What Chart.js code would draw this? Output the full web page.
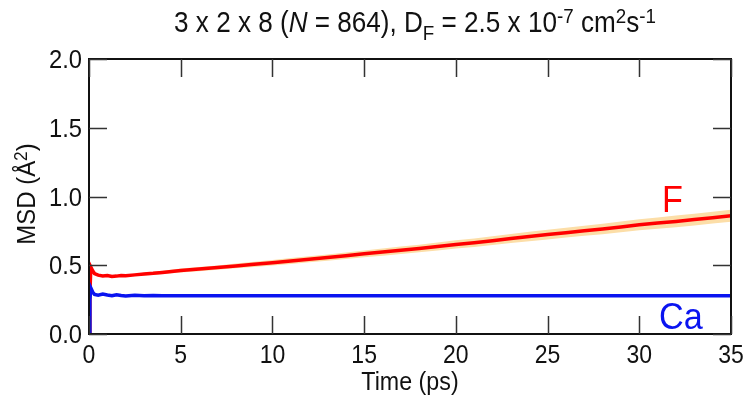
<!DOCTYPE html>
<html>
<head>
<meta charset="utf-8">
<script src="https://cdn.jsdelivr.net/npm/chart.js@4.4.1/dist/chart.umd.min.js"></script>
<style>
  html, body { margin: 0; padding: 0; background: #fff; }
  #wrap { width: 747px; height: 399px; }
</style>
</head>
<body>
<div id="wrap"><canvas id="chartCanvas" width="747" height="399"></canvas></div>
<script>
// time axis (ps)
const timePs = [0, 0.05, 0.1, 0.2, 0.3, 0.5, 0.75, 1, 1.25, 1.5, 1.75, 2, 2.5, 3, 3.5, 4,
  5, 6, 7, 8, 9, 10, 11, 12, 13, 14, 15, 16, 17, 18, 19, 20,
  21, 22, 23, 24, 25, 26, 27, 28, 29, 30, 31, 32, 33, 34, 35];

// MSD of F (A^2)
const msdF = [0, 0.30, 0.487, 0.46, 0.44, 0.428, 0.422, 0.426, 0.418, 0.421, 0.426, 0.423, 0.43, 0.436, 0.441, 0.448,
  0.462, 0.472, 0.483, 0.495, 0.507, 0.519, 0.531, 0.543, 0.556, 0.569, 0.583, 0.596, 0.609, 0.622, 0.637, 0.651,
  0.664, 0.679, 0.694, 0.709, 0.723, 0.737, 0.751, 0.764, 0.779, 0.794, 0.807, 0.819, 0.832, 0.846, 0.86];

// error band half-width for F
const errF = [0, 0.004, 0.006, 0.006, 0.006, 0.006, 0.007, 0.007, 0.007, 0.008, 0.008, 0.008, 0.009, 0.010, 0.011, 0.012,
  0.014, 0.015, 0.016, 0.017, 0.019, 0.020, 0.021, 0.022, 0.023, 0.024, 0.025, 0.026, 0.027, 0.028, 0.029, 0.030,
  0.031, 0.032, 0.033, 0.034, 0.035, 0.036, 0.037, 0.038, 0.039, 0.040, 0.041, 0.042, 0.042, 0.043, 0.044];

// MSD of Ca (A^2)
const msdCa = [0, 0.25, 0.335, 0.305, 0.288, 0.282, 0.29, 0.283, 0.278, 0.286, 0.28, 0.277, 0.281, 0.279, 0.28, 0.278,
  0.279, 0.278, 0.279, 0.278, 0.279, 0.278, 0.279, 0.278, 0.278, 0.279, 0.278, 0.278, 0.279, 0.278, 0.278, 0.279,
  0.278, 0.278, 0.279, 0.278, 0.278, 0.279, 0.278, 0.278, 0.279, 0.278, 0.278, 0.279, 0.278, 0.278, 0.279];

const xTicks = [0, 5, 10, 15, 20, 25, 30, 35];
const yTicks = [0, 0.5, 1.0, 1.5, 2.0];

const FONT = '"Liberation Sans", Arial, sans-serif';

function pts(ys) {
  return timePs.map((t, i) => ({ x: t, y: ys[i] }));
}

// text pieces with sub/superscripts, squeezed horizontally like the original
function partFont(p, size) {
  const s = (p.s === 'sub' || p.s === 'sup') ? size * 0.72 : size;
  return (p.s === 'it' ? 'italic ' : '') + s + 'px ' + FONT;
}
function richWidth(ctx, parts, size) {
  let w = 0;
  parts.forEach(p => { ctx.font = partFont(p, size); w += ctx.measureText(p.t).width; });
  return w;
}
function drawRich(ctx, parts, x, y, size, sx) {
  ctx.save();
  ctx.translate(x, y);
  ctx.scale(sx, 1);
  let cx = 0;
  parts.forEach(p => {
    let dy = 0;
    if (p.s === 'sub') dy = size * 0.28;
    if (p.s === 'sup') dy = -size * 0.32;
    ctx.font = partFont(p, size);
    ctx.fillText(p.t, cx, dy);
    cx += ctx.measureText(p.t).width;
  });
  ctx.restore();
}
function drawText(ctx, txt, x, y, size, sx, align) {
  ctx.save();
  ctx.font = size + 'px ' + FONT;
  const w = ctx.measureText(txt).width * sx;
  let x0 = x;
  if (align === 'center') x0 = x - w / 2;
  if (align === 'right') x0 = x - w;
  ctx.translate(x0, y);
  ctx.scale(sx, 1);
  ctx.textAlign = 'left';
  ctx.fillText(txt, 0, 0);
  ctx.restore();
}

const titleParts = [
  { t: '3 x 2 x 8 (' }, { t: 'N', s: 'it' }, { t: ' = 864), D' }, { t: 'F', s: 'sub' },
  { t: ' = 2.5 x 10' }, { t: '-7', s: 'sup' }, { t: ' cm' }, { t: '2', s: 'sup' },
  { t: 's' }, { t: '-1', s: 'sup' }
];
const yTitleParts = [{ t: 'MSD (Å' }, { t: '2', s: 'sup' }, { t: ')' }];

const decorPlugin = {
  id: 'decor',
  afterDatasetsDraw(chart) {
    const ctx = chart.ctx;
    const a = chart.chartArea;
    const xs = chart.scales.x, ys = chart.scales.y;
    ctx.save();
    // frame
    ctx.strokeStyle = '#111';
    ctx.lineWidth = 2;
    ctx.strokeRect(a.left, a.top, a.right - a.left, a.bottom - a.top);
    // inward ticks on all four sides
    ctx.lineWidth = 1.5;
    ctx.strokeStyle = '#333';
    ctx.beginPath();
    xTicks.forEach(v => {
      const px = Math.round(xs.getPixelForValue(v)) + 0.5;
      ctx.moveTo(px, a.bottom); ctx.lineTo(px, a.bottom - 18);
      ctx.moveTo(px, a.top); ctx.lineTo(px, a.top + 18);
    });
    yTicks.forEach(v => {
      const py = Math.round(ys.getPixelForValue(v)) + 0.5;
      ctx.moveTo(a.left, py); ctx.lineTo(a.left + 18, py);
      ctx.moveTo(a.right, py); ctx.lineTo(a.right - 18, py);
    });
    ctx.stroke();

    // tick labels
    ctx.fillStyle = '#111';
    ctx.textBaseline = 'alphabetic';
    xTicks.forEach(v => {
      drawText(ctx, String(v), xs.getPixelForValue(v), 363, 25, 0.92, 'center');
    });
    yTicks.forEach(v => {
      drawText(ctx, v.toFixed(1), 82, ys.getPixelForValue(v) + 9, 25, 0.95, 'right');
    });

    // series labels
    ctx.fillStyle = '#ff0000';
    drawText(ctx, 'F', 662, 212, 36, 0.95, 'left');
    ctx.fillStyle = '#0a14f0';
    drawText(ctx, 'Ca', 659, 329, 36, 0.95, 'left');

    // title
    ctx.fillStyle = '#111';
    const tsx = 0.9;
    const tw = richWidth(ctx, titleParts, 29) * tsx;
    drawRich(ctx, titleParts, 415 - tw / 2, 32, 29, tsx);

    // x title
    drawText(ctx, 'Time (ps)', 410, 390, 25, 0.93, 'center');

    // y title
    ctx.save();
    ctx.translate(35, 194);
    ctx.rotate(-Math.PI / 2);
    const ysx = 0.92;
    const yw = richWidth(ctx, yTitleParts, 26) * ysx;
    drawRich(ctx, yTitleParts, -yw / 2, 0, 26, ysx);
    ctx.restore();
    ctx.restore();
  }
};

const ctx = document.getElementById('chartCanvas').getContext('2d');
const chart = new Chart(ctx, {
  type: 'line',
  data: {
    datasets: [
      {
        label: 'F upper',
        data: pts(msdF.map((v, i) => v + errF[i])),
        borderWidth: 0, pointRadius: 0,
        backgroundColor: 'rgb(252,222,168)',
        fill: '+1', order: 5
      },
      {
        label: 'F lower',
        data: pts(msdF.map((v, i) => v - errF[i])),
        borderWidth: 0, pointRadius: 0, fill: false, order: 4
      },
      {
        label: 'F',
        data: pts(msdF),
        borderColor: '#ff0000', borderWidth: 3.5, pointRadius: 0, fill: false, order: 2
      },
      {
        label: 'Ca',
        data: pts(msdCa),
        borderColor: '#0a14f0', borderWidth: 3.5, pointRadius: 0, fill: false, order: 1
      }
    ]
  },
  options: {
    responsive: false,
    animation: false,
    layout: { padding: { top: 59, right: 16, left: 0, bottom: 0 } },
    plugins: { legend: { display: false }, tooltip: { enabled: false } },
    scales: {
      x: {
        type: 'linear', min: 0, max: 35,
        grid: { display: false, drawTicks: false },
        border: { display: false },
        ticks: { display: false, stepSize: 5 },
        afterFit(s) { s.height = 399 - 334; }
      },
      y: {
        min: 0, max: 2,
        grid: { display: false, drawTicks: false },
        border: { display: false },
        ticks: { display: false, stepSize: 0.5 },
        afterFit(s) { s.width = 89; }
      }
    }
  },
  plugins: [decorPlugin]
});
</script>
</body>
</html>
